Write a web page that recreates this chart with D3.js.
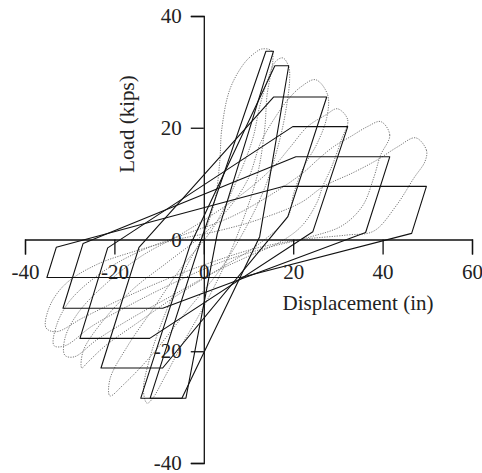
<!DOCTYPE html>
<html>
<head>
<meta charset="utf-8">
<script src="https://cdn.jsdelivr.net/npm/d3@7"></script>
<style>
  body { margin: 0; background: #fff; }
  svg { display: block; }
</style>
</head>
<body>
<svg id="chart" width="482" height="473"></svg>
<script>
// tick labels
const xTicks = [-40, -20, 0, 20, 40, 60];
const yTicks = [-40, -20, 0, 20, 40];

// model loops (solid), [displacement, load]
const model1 = [[13.9, 33.7], [15.6, 33.7], [3.0, 1.0], [-4.0, -28.4], [-12.0, -28.4], [-1.0, -1.0]];
const model2 = [[15.9, 31.1], [19.0, 31.1], [12.5, 0.5], [-4.9, -28.4], [-14.1, -28.4], [-3.1, -1.1]];
const model3 = [[15.6, 25.5], [27.5, 25.5], [18.8, 4.1], [-9.2, -23.0], [-23.0, -23.0], [-14.5, -1.4]];
const model4 = [[19.9, 20.2], [32.2, 20.2], [24.4, 1.4], [-12.1, -17.7], [-27.7, -17.7], [-21.5, -1.5]];
const model5 = [[20.6, 14.8], [41.6, 14.8], [36.2, 1.25], [-9.2, -12.3], [-31.5, -12.3], [-27.0, -0.7]];
const model6 = [[17.7, 9.5], [49.8, 9.5], [46.5, 1.1], [8.3, -6.8], [-35.1, -6.8], [-33.0, -1.4]];

// test loops (dotted), [displacement, load]
const test1 = [[13.0, 34.1], [15.2, 33.7], [14.1, 25.5], [13.6, 19.6], [12.0, 11.6], [9.0, 4.0], [5.0, -4.0], [0.0, -12.0],
  [-5.0, -19.0], [-9.0, -25.0], [-11.5, -28.5], [-12.7, -29.3], [-13.5, -27.0], [-12.0, -21.0], [-8.5, -13.0],
  [-4.0, -5.0], [0.0, 1.0], [2.5, 7.1], [3.6, 14.3], [4.0, 19.6], [5.8, 26.8], [9.0, 31.5], [11.6, 33.5]];
const test2 = [[17.7, 32.5], [19.0, 30.9], [19.2, 28.6], [18.5, 23.8], [17.0, 17.9], [14.0, 10.0], [10.0, 3.0], [4.0, -5.0],
  [-4.0, -13.0], [-12.0, -21.0], [-18.0, -26.0], [-21.0, -28.0], [-21.0, -25.0], [-17.0, -19.0], [-11.0, -12.0],
  [-5.0, -5.0], [2.0, 2.0], [6.5, 9.0], [10.9, 17.9], [12.5, 23.8], [14.3, 28.6], [16.0, 31.8]];
const test3 = [[25.0, 28.6], [27.7, 25.9], [27.5, 21.8], [25.3, 17.1], [22.3, 12.9], [20.1, 8.2], [18.8, 4.1], [12.0, -1.0],
  [4.0, -5.0], [-6.0, -10.0], [-15.0, -15.0], [-22.0, -19.0], [-26.0, -22.0], [-27.3, -23.0], [-27.0, -20.0],
  [-23.0, -15.0], [-16.0, -9.0], [-8.0, -4.0], [0.0, 1.0], [6.0, 6.0], [10.0, 11.0], [12.7, 17.3], [15.6, 21.4],
  [18.8, 25.0], [21.7, 27.3]];
const test4 = [[29.9, 23.4], [32.2, 21.4], [30.8, 17.9], [28.6, 13.0], [26.6, 9.5], [25.3, 6.6], [22.0, 2.5], [17.0, -0.5],
  [10.0, -3.0], [2.0, -6.0], [-7.0, -10.0], [-16.0, -14.0], [-24.0, -18.0], [-29.0, -21.0], [-31.1, -20.7],
  [-31.0, -17.5], [-28.0, -13.0], [-22.0, -8.0], [-14.0, -3.0], [-5.0, 1.0], [3.0, 5.0], [10.0, 9.0],
  [15.6, 13.0], [19.4, 16.6], [23.2, 20.2], [27.3, 22.3]];
const test5 = [[39.6, 21.1], [41.6, 18.7], [39.5, 15.0], [38.0, 11.0], [35.5, 6.0], [31.0, 2.5], [24.0, 0.5], [14.0, -1.5],
  [4.0, -4.0], [-6.0, -7.5], [-16.0, -11.5], [-25.0, -15.5], [-31.0, -19.0], [-33.5, -19.0], [-33.0, -15.5],
  [-30.0, -11.0], [-23.0, -6.0], [-14.0, -2.0], [-4.0, 1.0], [6.0, 4.0], [15.0, 8.0], [22.3, 12.0], [25.5, 14.3],
  [29.0, 16.6], [32.8, 18.4], [36.6, 20.2]];
const test6 = [[47.4, 18.2], [49.8, 16.0], [49.5, 14.0], [47.0, 11.0], [43.0, 6.0], [38.0, 1.5], [32.0, 0.8], [22.0, 0.0],
  [12.0, -1.5], [2.0, -4.0], [-8.0, -7.0], [-18.0, -10.5], [-27.0, -14.0], [-33.0, -16.5], [-35.3, -15.8],
  [-34.5, -12.0], [-31.0, -8.0], [-24.0, -4.5], [-15.0, -2.0], [-6.0, 0.0], [3.0, 1.5], [12.0, 3.5], [21.7, 6.6],
  [26.8, 9.5], [33.5, 12.0], [38.9, 14.3], [43.4, 16.6]];

const modelLoops = [model1, model2, model3, model4, model5, model6];
const testLoops = [test1, test2, test3, test4, test5, test6];

const svg = d3.select("#chart");
const font = "'Liberation Serif', 'Times New Roman', serif";

const x = d3.scaleLinear().domain([-40, 60]).range([25, 472]);
const y = d3.scaleLinear().domain([-40, 40]).range([463, 16]);

// dotted test loops
const smooth = d3.line().x(d => x(d[0])).y(d => y(d[1])).curve(d3.curveCatmullRomClosed.alpha(0.5));
svg.append("g").selectAll("path")
  .data(testLoops)
  .join("path")
  .attr("d", smooth)
  .attr("fill", "none")
  .attr("stroke", "#777")
  .attr("stroke-width", 1)
  .attr("stroke-dasharray", "1.2,1.3");

// solid model loops
const poly = d3.line().x(d => x(d[0])).y(d => y(d[1])).curve(d3.curveLinearClosed);
svg.append("g").selectAll("path")
  .data(modelLoops)
  .join("path")
  .attr("d", poly)
  .attr("fill", "none")
  .attr("stroke", "#111")
  .attr("stroke-width", 1.1)
  .attr("stroke-linejoin", "round");

// axes
const xAxis = svg.append("g")
  .attr("transform", "translate(0," + y(0) + ")")
  .call(d3.axisBottom(x).tickValues(xTicks).tickSize(15).tickSizeOuter(15).tickPadding(10).tickFormat(d => String(d)));
const yAxis = svg.append("g")
  .attr("transform", "translate(" + x(0) + ",0)")
  .call(d3.axisLeft(y).tickValues(yTicks).tickSize(13).tickSizeOuter(13).tickPadding(9).tickFormat(d => String(d)));

[xAxis, yAxis].forEach(g => {
  g.selectAll("path, line").attr("stroke", "#111").attr("stroke-width", 1.3);
  g.selectAll("text").attr("fill", "#222").style("font-family", font).style("font-size", "21px");
});

svg.append("text")
  .attr("x", 358).attr("y", 310)
  .attr("text-anchor", "middle")
  .attr("fill", "#222")
  .style("font-family", font).style("font-size", "21px")
  .text("Displacement (in)");

svg.append("text")
  .attr("transform", "translate(134,124) rotate(-90)")
  .attr("text-anchor", "middle")
  .attr("fill", "#222")
  .style("font-family", font).style("font-size", "21px")
  .text("Load (kips)");
</script>
</body>
</html>
